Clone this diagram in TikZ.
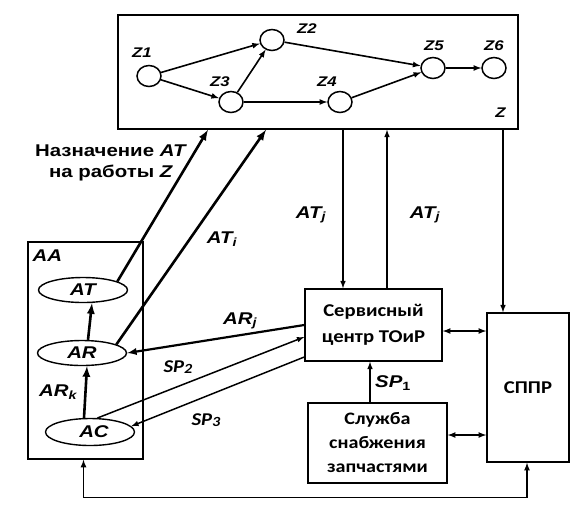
\documentclass[tikz,border=0pt]{standalone}
\usepackage{fontspec}
\setmainfont{Liberation Sans}[FakeStretch=1.2]
\newfontfamily\calfont{Carlito}[FakeStretch=1.15]
\usetikzlibrary{positioning,shapes,arrows,calc}
\tikzset{>=latex}
\tikzset{zstate/.style={ellipse,draw,line width=1.5pt,minimum width=24pt,minimum height=21pt,inner sep=0pt}}
\tikzset{zlbl/.style={font=\fontsize{14}{16}\selectfont\bfseries\itshape,inner sep=0pt}}
\tikzset{aanode/.style={ellipse,draw,line width=1.4pt,minimum width=89pt,minimum height=25pt,inner sep=0pt,font=\fontsize{17}{19}\selectfont\bfseries\itshape}}
\tikzset{block/.style={draw,line width=1.5pt,inner sep=0pt}}
\tikzset{flow/.style={->,line width=1.5pt}}
\tikzset{bigflow/.style={->,line width=2.6pt}}
\tikzset{arlbl/.style={font=\fontsize{17}{19}\selectfont\bfseries\itshape,inner sep=0pt}}
\tikzset{plainlbl/.style={font=\fontsize{17}{21}\selectfont\bfseries,inner sep=0pt}}
\tikzset{splbl/.style={font=\calfont\fontsize{18}{19}\selectfont\bfseries\itshape,inner sep=0pt}}
\tikzset{boxtxt/.style={font=\calfont\fontsize{18}{26}\selectfont\bfseries,align=center}}
\newcommand{\spidx}[1]{\raisebox{-1pt}{\fontsize{14}{14}\selectfont #1}}

\begin{document}
\begin{tikzpicture}[x=1pt,y=-1pt]
    \useasboundingbox (0,0) rectangle (578,507);
    % Z: work graph
    \node[block,minimum width=400pt,minimum height=114pt] (zbox) at (318,72) {};
    \node[zlbl,anchor=south east] at (zbox.south east) [xshift=-13pt,yshift=12pt] {Z};
    \node[zstate] (z1) at (149,76) {};
    \node[zstate] (z2) at (272,40) {};
    \node[zstate] (z3) at (231,102) {};
    \node[zstate] (z4) at (340,102) {};
    \node[zstate] (z5) at (433,68) {};
    \node[zstate] (z6) at (494,68) {};
    \node[zlbl] (z1l) at (142,53) {Z1};
    \node[zlbl] (z2l) at (307,29) {Z2};
    \node[zlbl] (z3l) at (220,82) {Z3};
    \node[zlbl] (z4l) at (327,82) {Z4};
    \node[zlbl] (z5l) at (434,46) {Z5};
    \node[zlbl] (z6l) at (494,46) {Z6};
    \foreach \a/\b in {z1/z2,z1/z3,z3/z2,z3/z4,z2/z5,z4/z5,z5/z6}
        \draw[->,line width=1.6pt] (\a) -- (\b);

    % AA: aircraft
    \node[block,line width=1.3pt,minimum width=115pt,minimum height=217pt] (aa) at (85.5,350.5) {};
    \node[arlbl,anchor=north west] at ([xshift=5pt,yshift=-8pt]aa.north west) {AA};
    \node[aanode] (at) at (83,290) {AT};
    \node[aanode] (ar) at (82,353) {AR};
    \node[aanode,minimum height=27pt] (ac) at (90,432) {\hspace{8pt}AC};
    \draw[bigflow] ([xshift=-6pt]ac.north) -- ([xshift=5pt]ar.south);
    \draw[bigflow] ([xshift=6pt]ar.north) -- ([xshift=9pt]at.south);
    \node[arlbl] (ark) at (58,392) {AR\textsubscript{k}};

    % service units
    \node[block,minimum width=137pt,minimum height=72pt,boxtxt] (svc) at (373.5,325) {Сервисный\\центр ТОиР};
    \node[block,minimum width=139pt,minimum height=80pt,font=\calfont\fontsize{17.5}{24}\selectfont\bfseries,align=center] (sup) at (377.5,443) {Служба\\снабжения\\запчастями};
    \node[block,minimum width=82pt,minimum height=149pt,boxtxt] (sppr) at (528,387.5) {СППР};

    % links to Z
    \coordinate (toz1) at ([xshift=-110pt]zbox.south);
    \coordinate (toz2) at ([xshift=-52pt]zbox.south);
    \draw[bigflow] (at.14) -- (toz1);
    \draw[bigflow] (ar.14) -- (toz2);
    \node[plainlbl,align=center] (assign) at (111,163) {Назначение \textit{AT}\\на работы \textit{Z}};
    \node[arlbl] (ati) at (222,239) {AT\textsubscript{i}};

    \coordinate (svcin) at ([xshift=-30.5pt]svc.north);
    \coordinate (svcout) at ([xshift=13.5pt]svc.north);
    \draw[flow] (zbox.south -| svcin) -- (svcin);
    \draw[flow] (svcout) -- (zbox.south -| svcout);
    \node[arlbl] (atj1) at (311,215) {AT\textsubscript{j}};
    \node[arlbl] (atj2) at (425,215) {AT\textsubscript{j}};
    \draw[flow] (zbox.south -| sppr.center) ++(-25,0) coordinate (zs) -- (zs |- sppr.north);

    % service links
    \draw[bigflow,line width=2.2pt] (svc.west) -- (ar.east);
    \node[arlbl] (arj) at (240,321) {AR\textsubscript{j}};
    \draw[flow] (ac.62) -- ([yshift=-12pt]svc.west);
    \draw[flow] ([yshift=-32pt]svc.west) -- (ac.8);
    \node[splbl] (sp2) at (178,367) {SP\spidx{2}};
    \node[splbl] (sp3) at (206,420) {SP\spidx{3}};
    \draw[flow] (sup.north -| 370,0) -- (svc.south -| 370,0);
    \node[arlbl] (sp1) at (393,383) {SP\textsubscript{\upshape 1}};
    \draw[<->,line width=1.6pt] (svc.east |- 0,331) -- (sppr.west |- 0,331);
    \draw[<->,line width=1.6pt] (sup.east |- 0,435) -- (sppr.west |- 0,435);
    \draw[<->,line width=1.6pt] ([xshift=-2pt]aa.south) -- ++(0,38) -| ([xshift=-1pt]sppr.south);
\end{tikzpicture}
\end{document}
